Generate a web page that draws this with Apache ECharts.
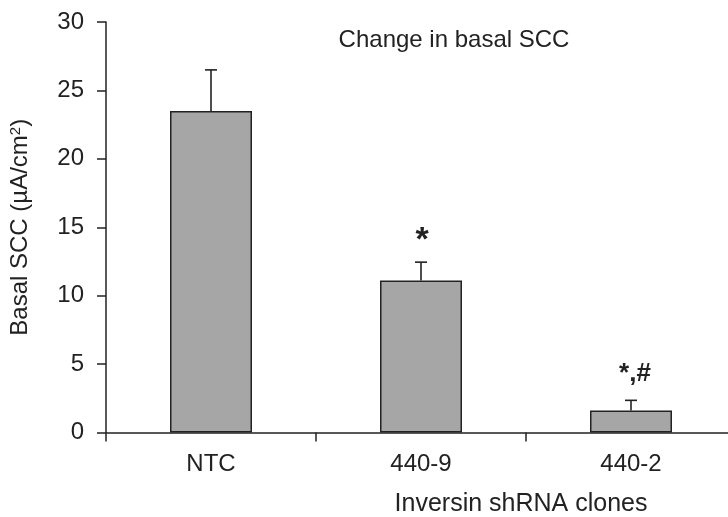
<!DOCTYPE html>
<html>
<head>
<meta charset="utf-8">
<script src="https://cdn.jsdelivr.net/npm/echarts@6/dist/echarts.min.js"></script>
<style>
html,body{margin:0;padding:0;background:#fff;}
#chart{width:728px;height:517px;}
</style>
</head>
<body>
<div id="chart"></div>
<script>
var categories = ['NTC', '440-9', '440-2'];
var values = [23.5, 11.1, 1.6];
var errors = [3.0, 1.35, 0.75];
var marks = ['', '*', '*,#'];
var yTicks = [0, 5, 10, 15, 20, 25, 30];

var FONT = 'Liberation Sans, Arial, sans-serif';
var INK = '#222';

var chart = echarts.init(document.getElementById('chart'), null, {renderer: 'canvas'});

var errData = categories.map(function (c, i) { return [i, values[i], errors[i], marks[i]]; });

var option = {
  backgroundColor: '#fff',
  animation: false,
  title: {
    text: 'Change in basal SCC',
    left: 449,
    top: 23,
    textAlign: 'center',
    textStyle: {fontFamily: FONT, fontSize: 24, fontWeight: 'normal', color: INK}
  },
  grid: {left: 106, top: 22, width: 630, height: 410.5, containLabel: false, outerBoundsMode: 'none'},
  xAxis: {
    type: 'category',
    data: categories,
    boundaryGap: true,
    name: 'Inversin shRNA clones',
    nameLocation: 'middle',
    nameGap: 59,
    nameTextStyle: {fontFamily: FONT, fontSize: 25, color: INK, padding: [0, 0, 0, 200]},
    axisLine: {show: true, lineStyle: {color: INK, width: 1.5}},
    axisTick: {show: true, length: 9, alignWithLabel: false, lineStyle: {color: INK, width: 1.5}},
    axisLabel: {fontFamily: FONT, fontSize: 24, color: INK, margin: 20},
    splitLine: {show: false}
  },
  yAxis: {
    type: 'value',
    min: yTicks[0],
    max: yTicks[yTicks.length - 1],
    interval: 5,
    name: 'Basal SCC (µA/cm{sup|2})',
    nameLocation: 'middle',
    nameRotate: 90,
    nameGap: 73,
    nameTextStyle: {
      fontFamily: FONT, fontSize: 24, color: INK,
      rich: {sup: {fontFamily: FONT, fontSize: 15, color: INK, verticalAlign: 'top', padding: [0, 0, 10, 0]}}
    },
    axisLine: {show: true, lineStyle: {color: INK, width: 1.5}},
    axisTick: {show: true, length: 9, lineStyle: {color: INK, width: 1.5}},
    axisLabel: {fontFamily: FONT, fontSize: 24, color: INK, margin: 22},
    splitLine: {show: false}
  },
  series: [
    {
      type: 'bar',
      data: values,
      barWidth: 82,
      itemStyle: {color: '#a6a6a6', borderColor: INK, borderWidth: 1.5},
      z: 2
    },
    {
      type: 'custom',
      data: errData,
      z: 3,
      renderItem: function (params, api) {
        var i = api.value(0), v = api.value(1), e = api.value(2);
        var mark = marks[i];
        var p0 = api.coord([i, v]);
        var p1 = api.coord([i, v + e]);
        var hw = 6;
        var children = [
          {type: 'line', shape: {x1: p0[0], y1: p0[1], x2: p1[0], y2: p1[1]}, style: {stroke: INK, lineWidth: 1.6}},
          {type: 'line', shape: {x1: p1[0] - hw, y1: p1[1], x2: p1[0] + hw, y2: p1[1]}, style: {stroke: INK, lineWidth: 1.6}}
        ];
        if (mark) {
          var big = mark === '*';
          children.push({
            type: 'text',
            style: {
              text: mark,
              x: p1[0] + (big ? 1 : 4),
              y: p1[1] - (big ? 5 : 14),
              align: 'center',
              verticalAlign: 'bottom',
              fontFamily: FONT,
              fontSize: big ? 34 : 26,
              fontWeight: 'bold',
              fill: INK
            }
          });
        }
        return {type: 'group', children: children};
      }
    }
  ]
};
chart.setOption(option);
</script>
</body>
</html>
